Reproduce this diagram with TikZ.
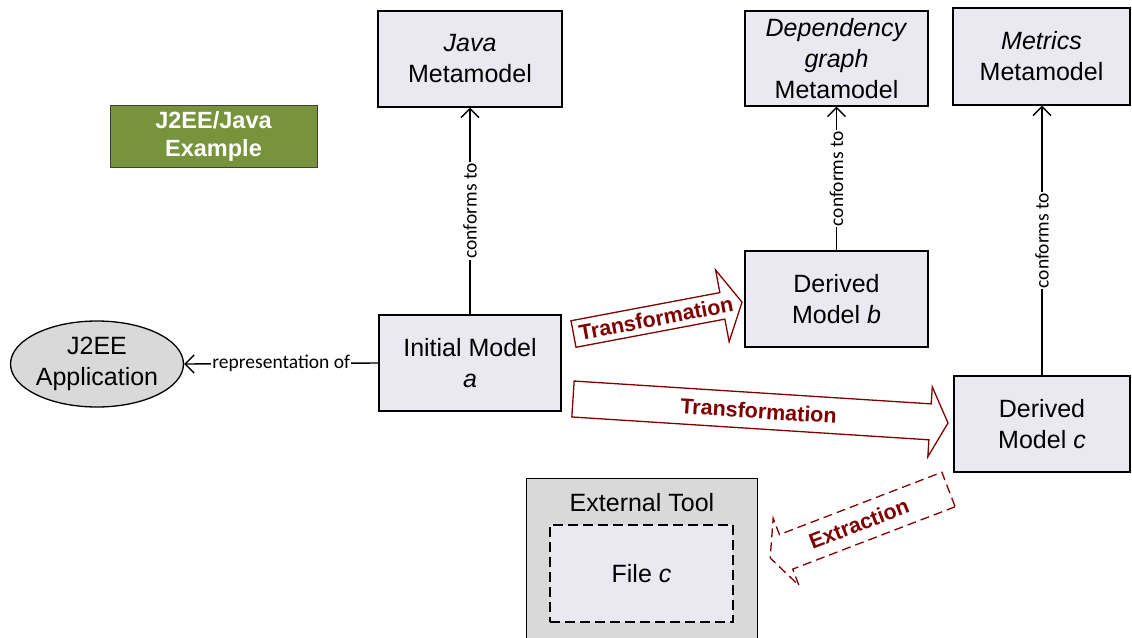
\documentclass[tikz,border=0pt]{standalone}
\usepackage{fontspec}
\setmainfont{Liberation Sans}
\newfontfamily\labfont{Carlito}
\usetikzlibrary{arrows.meta,calc,shapes.geometric}
\definecolor{boxfill}{RGB}{234,232,241}
\definecolor{grayfill}{RGB}{217,217,217}
\definecolor{exgreen}{RGB}{119,147,60}
\definecolor{dred}{RGB}{128,0,0}
\begin{document}
\begin{tikzpicture}[x=1pt,y=-1pt,
  mbox/.style={draw=black, line width=1.3pt, fill=boxfill, inner sep=0pt, align=center, font=\fontsize{25}{31}\selectfont},
  conn/.style={line width=1.4pt, -{Straight Barb[length=9pt,width=18pt,line width=1.4pt]}},
  clabel/.style={fill=white, inner sep=1pt, font=\labfont\fontsize{19.5}{22}\selectfont},
  blockarrow/.style={draw=dred, fill=white, line width=1.3pt, line join=miter},
  btext/.style={text=dred, font=\bfseries\fontsize{21.5}{24}\selectfont, inner sep=0pt}]
\useasboundingbox (0,0) rectangle (1132,637);
\clip (0,0) rectangle (1132,637);

% metamodels
\node[mbox, minimum width=184pt, minimum height=96pt] (java) at (470,59) {\textit{Java}\\Metamodel};
\node[mbox, minimum width=183pt, minimum height=95pt] (dep) at (836.5,58.5) {\textit{Dependency}\\\textit{graph}\\Metamodel};
\node[mbox, minimum width=177pt, minimum height=97pt] (met) at (1041.5,56.5) {\textit{Metrics}\\Metamodel};

% models
\node[mbox, minimum width=183pt, minimum height=96pt] (b) at (836.5,299) {Derived\\Model \textit{b}};
\node[mbox, minimum width=182pt, minimum height=96pt] (a) at (470,363) {Initial Model\\\textit{a}};
\node[mbox, minimum width=176pt, minimum height=96pt] (c) at (1042,424) {Derived\\Model \textit{c}};

% application
\node[ellipse, draw=black, line width=1.3pt, fill=grayfill, minimum width=170pt, minimum height=86pt, inner sep=0pt, align=center, font=\fontsize{25}{31}\selectfont] (app) at (97,364) {J2EE\\Application};

% example tag
\node[draw=black!75, line width=0.8pt, fill=exgreen, text=white, font=\bfseries\fontsize{23.5}{28}\selectfont, minimum width=207pt, minimum height=62pt, inner sep=0pt, align=center] (ex) at (213.5,136) {J2EE/Java\\Example};

% external tool
\node[draw=black, line width=1.3pt, fill=grayfill, minimum width=231pt, minimum height=180pt, anchor=north west, inner sep=0pt] (tool) at (526,478) {};
\node[font=\fontsize{25}{31}\selectfont, inner sep=0pt] (tooltitle) at (642,503) {External Tool};
\node[mbox, dash pattern=on 10pt off 5pt, minimum width=183pt, minimum height=97pt] (file) at (641.5,573.5) {File \textit{c}};

% connectors
\draw[conn] (a.north) -- node[clabel, rotate=90] {conforms to} (java.south);
\draw[conn] (b.north) -- node[clabel, rotate=90] {conforms to} (dep.south);
\draw[conn] (c.north) -- node[clabel, rotate=90] {conforms to} (c.north |- met.south);
\draw[conn] (a.west) -- node[clabel] {representation of} (app.east);

% transformation a -> b
\begin{scope}[shift={(573.5,334)}, rotate=10.7]
  \draw[blockarrow] (0,-13.5) -- (151.5,-13.5) -- (151.5,-36.5) -- (171.5,0) -- (151.5,36.5) -- (151.5,13.5) -- (0,13.5) -- cycle;
  \node[btext, transform shape] (t1) at (84,0) {Transformation};
\end{scope}

% transformation a -> c
\begin{scope}[shift={(573,399)}, rotate=-3.66]
  \draw[blockarrow] (0,-18) -- (357.8,-18) -- (357.8,-35) -- (375.8,0) -- (357.8,35) -- (357.8,18) -- (0,18) -- cycle;
  \node[btext, transform shape] (t2) at (186,0) {Transformation};
\end{scope}

% extraction c -> tool
\begin{scope}[shift={(948.5,489.5)}, rotate=201]
  \draw[blockarrow, fill=none, dash pattern=on 9pt off 5pt] (0,-18.5) -- (174,-18.5) -- (174,-36) -- (191,0) -- (174,36) -- (174,18.5) -- (0,18.5) -- cycle;
  \node[btext, rotate=21] (t3) at (96,0) {Extraction};
\end{scope}
\end{tikzpicture}
\end{document}
